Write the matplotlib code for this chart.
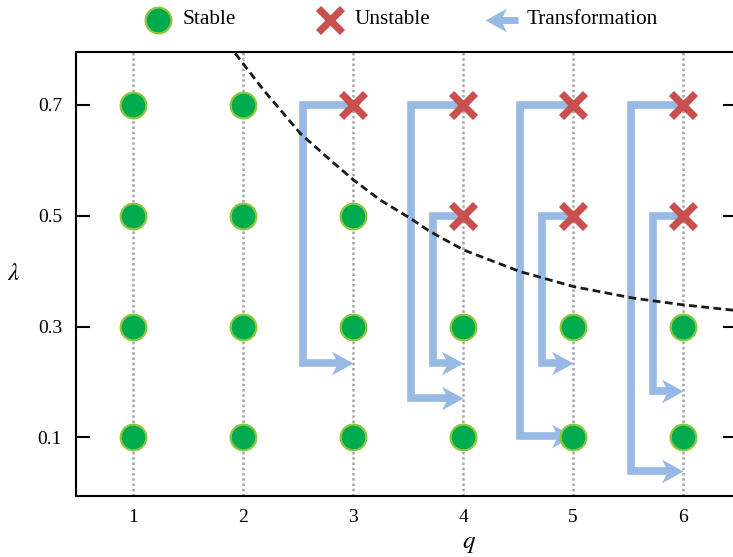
import matplotlib
matplotlib.use("Agg")
import matplotlib.pyplot as plt
from matplotlib.lines import Line2D
from matplotlib.path import Path

plt.rcParams["font.family"] = ["Liberation Serif", "DejaVu Serif"]
plt.rcParams["mathtext.fontset"] = "stix"

# Grid of (q, lambda) configurations
q_values = [1, 2, 3, 4, 5, 6]
lam_values = [0.1, 0.3, 0.5, 0.7]
y_tick_labels = ["0.1", "0.3", "0.5", "0.7"]

# Unstable configurations (q, lambda)
unstable_q = [3, 4, 4, 5, 5, 6, 6]
unstable_lam = [0.7, 0.7, 0.5, 0.7, 0.5, 0.7, 0.5]

# Transformations: start (q, lambda), left turn column, target lambda
trans_q = [3, 4, 4, 5, 5, 6, 6]
trans_lam_start = [0.7, 0.7, 0.5, 0.7, 0.5, 0.7, 0.5]
trans_turn_q = [2.54, 3.53, 3.73, 4.52, 4.72, 5.53, 5.73]
trans_lam_end = [0.235, 0.171, 0.235, 0.102, 0.235, 0.039, 0.183]

# Stability boundary
boundary_q = [1.927, 2.185, 2.518, 2.791, 3.003, 3.245, 3.518, 3.700, 4.003,
              4.518, 5.003, 5.548, 6.003, 6.427, 6.55]
boundary_lam = [0.7926, 0.7265, 0.6485, 0.6004, 0.5643, 0.5283, 0.4953, 0.4712, 0.4382,
                0.3991, 0.3721, 0.3512, 0.3391, 0.3301, 0.328]

GREEN = "#00ab4e"
GREEN_EDGE = "#8dc63f"
RED = "#c9504f"
BLUE = "#98b9e3"

# Stealth-shaped arrow head, tip at the origin, pointing in +x
HEAD_RIGHT = Path([(0, 0), (-1, 0.55), (-0.72, 0), (-1, -0.55), (0, 0)],
                  [Path.MOVETO, Path.LINETO, Path.LINETO, Path.LINETO, Path.CLOSEPOLY])
HEAD_LEFT = Path([(0, 0), (1, 0.55), (0.72, 0), (1, -0.55), (0, 0)],
                 [Path.MOVETO, Path.LINETO, Path.LINETO, Path.LINETO, Path.CLOSEPOLY])

W, H = 733, 557
fig = plt.figure(figsize=(W / 100, H / 100), dpi=100)
ax = fig.add_axes([76 / W, 1 - 496 / H, 661 / W, 444 / H])
ax.set_xlim(0.48, 6.49)
ax.set_ylim(-0.0055, 0.795)

# dotted vertical guides at each q
for q in q_values:
    ax.axvline(q, color="#a6a6a6", lw=1.8, ls=(0, (1, 1.1)), zorder=1)

# stable points
unstable = set(zip(unstable_q, unstable_lam))
sq, sl = [], []
for q in q_values:
    for lam in lam_values:
        if (q, lam) not in unstable:
            sq.append(q)
            sl.append(lam)

# transformation arrows
head_len = 0.12
for q0, l0, qt, l1 in zip(trans_q, trans_lam_start, trans_turn_q, trans_lam_end):
    ax.plot([q0, qt, qt, q0 - head_len], [l0, l0, l1, l1], color=BLUE, lw=5.5,
            solid_joinstyle="miter", solid_capstyle="butt", zorder=2)
    ax.plot([q0], [l1], marker=HEAD_RIGHT, ms=31, color=BLUE, mec=BLUE, mew=0,
            ls="none", zorder=2.5)

# stability boundary
ax.plot(boundary_q, boundary_lam, color="#1a1a1a", lw=2.0, ls=(0, (2.8, 1.6)),
        solid_joinstyle="round", zorder=3)

ax.plot(sq, sl, ls="none", marker="o", ms=18.5, mfc=GREEN, mec=GREEN_EDGE, mew=1.6, zorder=4)
ax.plot(unstable_q, unstable_lam, ls="none", marker="x", ms=17, mec=RED, mew=5.2, zorder=4)

# axes styling
for side in ("left", "bottom", "top"):
    ax.spines[side].set_linewidth(1.5)
ax.spines["right"].set_visible(False)
ax.set_xticks(q_values)
ax.set_xticklabels([str(q) for q in q_values])
ax.set_yticks(lam_values)
ax.set_yticklabels(y_tick_labels)
ax.tick_params(axis="y", direction="in", length=10, width=1.5, labelsize=14, pad=10,
               right=True)
ax.tick_params(axis="x", length=0, labelsize=14, pad=9)

ax.set_xlabel(r"$q$", fontsize=18)
ax.xaxis.set_label_coords((469 - 76) / 661, (496 - 544) / 444)
ax.xaxis.label.set_verticalalignment("center")
ax.set_ylabel(r"$\lambda$", fontsize=18, rotation=0, ha="center", va="center")
ax.yaxis.set_label_coords((14 - 76) / 661, (496 - 274) / 444)

# legend row along the top
ly = 1 - 20 / H
fig.add_artist(Line2D([158 / W], [ly], marker="o", ms=18.5, mfc=GREEN, mec=GREEN_EDGE,
                      mew=1.6, ls="none", transform=fig.transFigure))
fig.text(183 / W, ly, "Stable", fontsize=15.3, va="center", ha="left")
fig.add_artist(Line2D([330 / W], [ly], marker="x", ms=17, mec=RED, mew=5.2,
                      ls="none", transform=fig.transFigure))
fig.text(355 / W, ly, "Unstable", fontsize=15.3, va="center", ha="left")
fig.add_artist(Line2D([500 / W, 518 / W], [ly, ly], color=BLUE, lw=5,
                      solid_capstyle="butt", transform=fig.transFigure))
fig.add_artist(Line2D([485 / W], [ly], marker=HEAD_LEFT, ms=31, color=BLUE, mew=0,
                      ls="none", transform=fig.transFigure))
fig.text(527 / W, ly, "Transformation", fontsize=15.3, va="center", ha="left")

fig.savefig("out.png", dpi=100)
